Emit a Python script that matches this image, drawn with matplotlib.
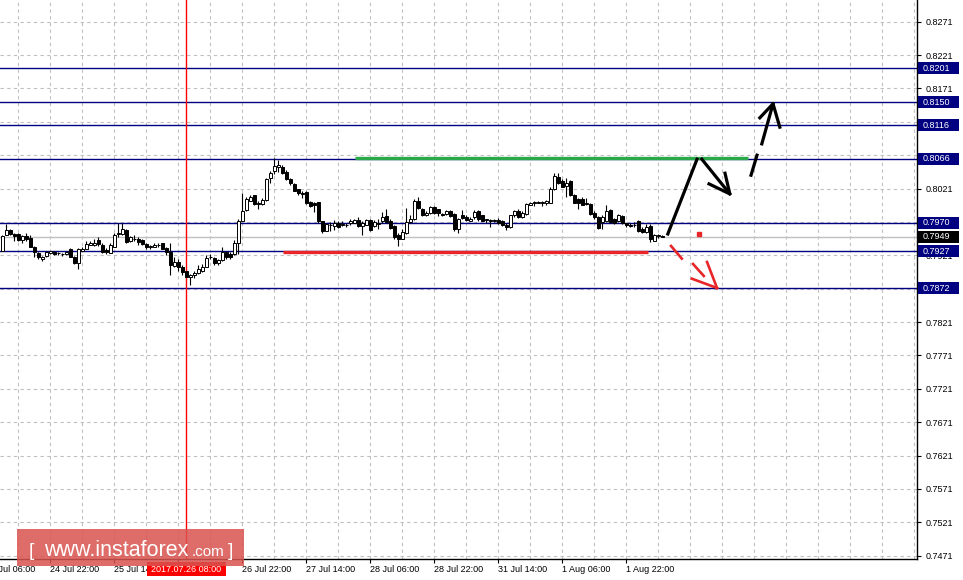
import numpy as np
import matplotlib
matplotlib.use("Agg")
import matplotlib.pyplot as plt
import matplotlib.transforms as mtransforms
from matplotlib.patches import Rectangle

# hourly candles, bar 0 = 24 Jul 10:00
opens = [0.7928, 0.7951, 0.7959, 0.7953, 0.7953, 0.7944, 0.7950, 0.7947, 0.7934, 0.7925,
         0.7916, 0.7920, 0.7924, 0.7926, 0.7924, 0.7923, 0.7923, 0.7931, 0.7918, 0.7910,
         0.7928, 0.7931, 0.7937, 0.7936, 0.7944, 0.7937, 0.7929, 0.7925, 0.7934, 0.7953,
         0.7953, 0.7959, 0.7942, 0.7945, 0.7946, 0.7944, 0.7938, 0.7934, 0.7934, 0.7936,
         0.7939, 0.7932, 0.7926, 0.7905, 0.7911, 0.7904, 0.7897, 0.7888, 0.7891, 0.7895,
         0.7897, 0.7904, 0.7918, 0.7917, 0.7909, 0.7914, 0.7926, 0.7923, 0.7923, 0.7940,
         0.7973, 0.7989, 0.8003, 0.8011, 0.8000, 0.7998, 0.8004, 0.8037, 0.8047, 0.8053,
         0.8053, 0.8046, 0.8036, 0.8028, 0.8020, 0.8014, 0.8016, 0.8001, 0.8000, 0.8001,
         0.7972, 0.7958, 0.7967, 0.7965, 0.7970, 0.7966, 0.7966, 0.7969, 0.7970, 0.7974,
         0.7965, 0.7967, 0.7974, 0.7965, 0.7968, 0.7972, 0.7980, 0.7972, 0.7965, 0.7952,
         0.7946, 0.7954, 0.7971, 0.7975, 0.8003, 0.7991, 0.7981, 0.7984, 0.7994, 0.7990,
         0.7983, 0.7983, 0.7988, 0.7983, 0.7960, 0.7982, 0.7979, 0.7973, 0.7978, 0.7987,
         0.7981, 0.7974, 0.7974, 0.7973, 0.7974, 0.7972, 0.7967, 0.7963, 0.7981, 0.7987,
         0.7979, 0.7983, 0.7997, 0.8000, 0.8001, 0.7999, 0.7999, 0.8000, 0.8021, 0.8039,
         0.8032, 0.8025, 0.8032, 0.8011, 0.8005, 0.8006, 0.8000, 0.7998, 0.7984, 0.7979,
         0.7971, 0.7972, 0.7989, 0.7976, 0.7972, 0.7980, 0.7969, 0.7966, 0.7967, 0.7972,
         0.7960, 0.7956, 0.7965, 0.7943, 0.7950, 0.7950]
highs = [0.7951, 0.7968, 0.7960, 0.7954, 0.7954, 0.7952, 0.7954, 0.7952, 0.7935, 0.7926,
         0.7920, 0.7927, 0.7928, 0.7927, 0.7926, 0.7924, 0.7928, 0.7932, 0.7920, 0.7932,
         0.7934, 0.7943, 0.7942, 0.7945, 0.7949, 0.7939, 0.7932, 0.7939, 0.7954, 0.7969,
         0.7970, 0.7960, 0.7950, 0.7951, 0.7949, 0.7945, 0.7940, 0.7937, 0.7939, 0.7939,
         0.7940, 0.7934, 0.7940, 0.7919, 0.7916, 0.7906, 0.7898, 0.7893, 0.7897, 0.7906,
         0.7908, 0.7921, 0.7923, 0.7918, 0.7916, 0.7933, 0.7927, 0.7926, 0.7944, 0.7976,
         0.8014, 0.8009, 0.8012, 0.8012, 0.8002, 0.8007, 0.8037, 0.8048, 0.8067, 0.8064,
         0.8056, 0.8049, 0.8037, 0.8029, 0.8021, 0.8017, 0.8017, 0.8003, 0.8001, 0.8001,
         0.7973, 0.7970, 0.7971, 0.7974, 0.7972, 0.7972, 0.7969, 0.7975, 0.7976, 0.7978,
         0.7972, 0.7976, 0.7976, 0.7974, 0.7976, 0.7986, 0.7990, 0.7975, 0.7966, 0.7955,
         0.7960, 0.7992, 0.7981, 0.8006, 0.8008, 0.7992, 0.7987, 0.7995, 0.7995, 0.7991,
         0.7985, 0.7989, 0.7989, 0.7984, 0.7977, 0.7989, 0.7981, 0.7979, 0.7989, 0.7989,
         0.7982, 0.7976, 0.7976, 0.7976, 0.7977, 0.7974, 0.7969, 0.7982, 0.7989, 0.7990,
         0.7988, 0.7999, 0.8001, 0.8003, 0.8003, 0.8002, 0.8004, 0.8024, 0.8044, 0.8044,
         0.8035, 0.8037, 0.8034, 0.8013, 0.8007, 0.8009, 0.8007, 0.7999, 0.7988, 0.7980,
         0.7981, 0.7996, 0.7991, 0.7977, 0.7983, 0.7982, 0.7970, 0.7969, 0.7971, 0.7974,
         0.7963, 0.7968, 0.7968, 0.7953, 0.7953, 0.7952]
lows = [0.7927, 0.7951, 0.7952, 0.7942, 0.7943, 0.7939, 0.7943, 0.7934, 0.7919, 0.7915,
        0.7912, 0.7919, 0.7923, 0.7922, 0.7921, 0.7920, 0.7921, 0.7918, 0.7908, 0.7901,
        0.7927, 0.7930, 0.7936, 0.7935, 0.7935, 0.7925, 0.7923, 0.7924, 0.7933, 0.7949,
        0.7952, 0.7940, 0.7941, 0.7942, 0.7937, 0.7937, 0.7930, 0.7931, 0.7933, 0.7933,
        0.7930, 0.7922, 0.7892, 0.7904, 0.7897, 0.7891, 0.7888, 0.7877, 0.7887, 0.7893,
        0.7896, 0.7903, 0.7915, 0.7906, 0.7906, 0.7913, 0.7916, 0.7916, 0.7921, 0.7923,
        0.7972, 0.7988, 0.8002, 0.7997, 0.7991, 0.7997, 0.8003, 0.8029, 0.8043, 0.8046,
        0.8043, 0.8034, 0.8027, 0.8017, 0.8012, 0.8007, 0.7998, 0.7993, 0.7986, 0.7970,
        0.7955, 0.7957, 0.7958, 0.7959, 0.7962, 0.7965, 0.7963, 0.7966, 0.7969, 0.7963,
        0.7952, 0.7966, 0.7958, 0.7963, 0.7961, 0.7970, 0.7969, 0.7961, 0.7946, 0.7935,
        0.7945, 0.7953, 0.7970, 0.7974, 0.7991, 0.7980, 0.7980, 0.7983, 0.7983, 0.7980,
        0.7980, 0.7981, 0.7979, 0.7958, 0.7955, 0.7975, 0.7972, 0.7972, 0.7976, 0.7973,
        0.7972, 0.7970, 0.7963, 0.7971, 0.7968, 0.7965, 0.7959, 0.7962, 0.7979, 0.7977,
        0.7977, 0.7982, 0.7996, 0.7995, 0.7999, 0.7995, 0.7996, 0.7999, 0.8019, 0.8028,
        0.8023, 0.8008, 0.8010, 0.7999, 0.7991, 0.7996, 0.7996, 0.7982, 0.7976, 0.7960,
        0.7961, 0.7971, 0.7970, 0.7968, 0.7971, 0.7968, 0.7963, 0.7963, 0.7963, 0.7956,
        0.7955, 0.7955, 0.7941, 0.7942, 0.7947, 0.7948]
closes = [0.7950, 0.7959, 0.7953, 0.7950, 0.7944, 0.7950, 0.7945, 0.7934, 0.7926, 0.7918,
          0.7919, 0.7926, 0.7927, 0.7923, 0.7924, 0.7923, 0.7926, 0.7919, 0.7910, 0.7931,
          0.7931, 0.7938, 0.7940, 0.7939, 0.7938, 0.7926, 0.7926, 0.7937, 0.7952, 0.7954,
          0.7960, 0.7941, 0.7948, 0.7946, 0.7941, 0.7938, 0.7934, 0.7935, 0.7936, 0.7937,
          0.7931, 0.7926, 0.7906, 0.7911, 0.7904, 0.7896, 0.7889, 0.7892, 0.7895, 0.7900,
          0.7903, 0.7917, 0.7919, 0.7910, 0.7914, 0.7926, 0.7918, 0.7919, 0.7939, 0.7973,
          0.7988, 0.8005, 0.8009, 0.7998, 0.7998, 0.8004, 0.8036, 0.8045, 0.8055, 0.8056,
          0.8044, 0.8035, 0.8029, 0.8018, 0.8014, 0.8013, 0.7999, 0.7995, 0.7996, 0.7972,
          0.7958, 0.7968, 0.7966, 0.7969, 0.7964, 0.7968, 0.7967, 0.7973, 0.7974, 0.7965,
          0.7969, 0.7974, 0.7959, 0.7971, 0.7969, 0.7979, 0.7971, 0.7962, 0.7948, 0.7945,
          0.7956, 0.7971, 0.7975, 0.8003, 0.7992, 0.7982, 0.7985, 0.7994, 0.7985, 0.7985,
          0.7982, 0.7987, 0.7980, 0.7961, 0.7975, 0.7977, 0.7974, 0.7976, 0.7986, 0.7976,
          0.7973, 0.7975, 0.7973, 0.7974, 0.7969, 0.7966, 0.7963, 0.7981, 0.7987, 0.7979,
          0.7985, 0.7998, 0.8000, 0.8001, 0.8000, 0.8001, 0.8003, 0.8021, 0.8040, 0.8030,
          0.8024, 0.8030, 0.8011, 0.8000, 0.8000, 0.7997, 0.7998, 0.7983, 0.7978, 0.7962,
          0.7979, 0.7988, 0.7971, 0.7970, 0.7981, 0.7969, 0.7966, 0.7965, 0.7966, 0.7958,
          0.7956, 0.7963, 0.7945, 0.7952, 0.7951, 0.7949]

# levels drawn on the chart
levels = [0.8201, 0.8150, 0.8116, 0.8066, 0.7970, 0.7927, 0.7872]
bid = 0.7949
grid_prices = [0.7471, 0.7521, 0.7571, 0.7621, 0.7671, 0.7721, 0.7771, 0.7821, 0.7871,
               0.7921, 0.7971, 0.8021, 0.8071, 0.8121, 0.8171, 0.8221, 0.8271]
# price labels that sit fully under a level box
hidden_prices = [0.7871, 0.7971, 0.8071]
date_pos = [-4, 12, 28, 44, 60, 76, 92, 108, 124, 140, 156]
date_labels = ["24 Jul 06:00", "24 Jul 22:00", "25 Jul 14:00", "", "26 Jul 22:00",
               "27 Jul 14:00", "28 Jul 06:00", "28 Jul 22:00", "31 Jul 14:00", "1 Aug 06:00",
               "1 Aug 22:00"]
cursor_bar = 46
cursor_label = "2017.07.26 08:00"

# hand drawn marks (bar index, price)
green_x, green_y = [88.2, 186.4], [0.8067, 0.8067]
red_x, red_y = [70.2, 161.4], [0.7926, 0.7926]
black_strokes = [
    ([166.4, 173.7], [0.7953, 0.8065]),
    ([174.9, 181.9], [0.8065, 0.8013]),
    ([176.7, 181.9, 180.7], [0.8028, 0.8013, 0.8044]),
    ([187.2, 188.7], [0.8041, 0.8071]),
    ([189.9, 192.7], [0.8088, 0.8148]),
    ([189.4, 192.7, 194.4], [0.8127, 0.8148, 0.8113]),
]
red_strokes = [
    ([167.2, 169.9], [0.7935, 0.7916]),
    ([176.2, 178.7], [0.7911, 0.7872]),
    ([172.4, 178.7], [0.7886, 0.7872]),
    ([172.7, 175.4], [0.7908, 0.7890]),
]
red_dot = (174.2, 0.7953)

navy = "#000080"
font = "Liberation Sans"

fig = plt.figure(figsize=(9.63, 5.80), dpi=100)
ax = fig.add_axes([0, 21 / 580, 917 / 963, 559 / 580])
ax.set_xlim(-0.575, 228.7)
ax.set_ylim(0.7466, 0.83035)

# grid
for gx in range(4, 229, 8):
    ax.axvline(gx, color="#c0c0c0", lw=0.8, ls=(0, (3, 3)), zorder=0)
for gy in grid_prices:
    ax.axhline(gy, color="#c0c0c0", lw=0.8, ls=(0, (3, 3)), zorder=0)

# levels
for lv in levels:
    ax.axhline(lv, color=navy, lw=1.0, zorder=1)
ax.axhline(bid, color="#c0c0c0", lw=1.0, zorder=1)
ax.axvline(cursor_bar, color="red", lw=1.0, zorder=1)

# candles
o = np.array(opens)
h = np.array(highs)
l = np.array(lows)
c = np.array(closes)
x = np.arange(len(o))
up = c >= o
ax.vlines(x, l, h, color="black", lw=0.8, zorder=3)
ax.bar(x, np.abs(c - o), bottom=np.minimum(o, c), width=0.72,
       color=np.where(up, "white", "black"), edgecolor="black", lw=0.7, zorder=4)

# drawings
ax.plot(green_x, green_y, color="#2aa84a", lw=2.4, solid_capstyle="butt", zorder=5)
ax.plot(red_x, red_y, color="#e8262a", lw=2.4, solid_capstyle="butt", zorder=5)
for sx, sy in black_strokes:
    ax.plot(sx, sy, color="black", lw=2.3, zorder=6)
for sx, sy in red_strokes:
    ax.plot(sx, sy, color="#e8262a", lw=1.9, zorder=6)
ax.plot(*red_dot, marker="s", ms=3, color="#e8262a", zorder=6)

# axes look
for s in ["top", "left"]:
    ax.spines[s].set_visible(False)
ax.spines["right"].set_linewidth(1.0)
ax.spines["bottom"].set_linewidth(1.0)
ax.yaxis.tick_right()
ax.set_yticks(grid_prices)
ax.set_yticklabels(["" if p in hidden_prices else "%.4f" % p for p in grid_prices],
                   fontname=font, fontsize=6.5)
ax.tick_params(axis="y", length=3, width=0.8, pad=3)
ax.set_xticks([p for p in date_pos if p >= 0])
ax.set_xticklabels([])
ax.tick_params(axis="x", length=3, width=0.8)

tr = mtransforms.blended_transform_factory(ax.transData, ax.transAxes)
for p, lab in zip(date_pos, date_labels):
    if lab:
        ax.text(p - 0.1, -0.018, lab, transform=tr, ha="left", va="center",
                fontname=font, fontsize=6.5, clip_on=False)

# level price boxes on the right
tr_y = mtransforms.blended_transform_factory(ax.transAxes, ax.transData)
box_h = 12 / 6675
for lv, fc in [(v, navy) for v in levels] + [(bid, "black")]:
    ax.add_patch(Rectangle((1.001, lv - box_h / 2), 41 / 917, box_h, transform=tr_y,
                           facecolor=fc, edgecolor="none", clip_on=False, zorder=10))
    ax.text(1 + 6 / 917, lv, "%.4f" % lv, transform=tr_y, ha="left", va="center",
            color="white", fontname=font, fontsize=6.5, clip_on=False, zorder=11)

# cursor date label
fig.patches.append(Rectangle((147 / 963, 4 / 580), 79 / 963, 14 / 580,
                             transform=fig.transFigure, facecolor="red", edgecolor="none", zorder=10))
fig.text(186.5 / 963, 11 / 580, cursor_label, ha="center", va="center", color="white",
         fontname=font, fontsize=6.5, zorder=11)

# watermark
fig.patches.append(Rectangle((17 / 963, 14 / 580), 227 / 963, 37 / 580, transform=fig.transFigure,
                             facecolor="#d9534f", alpha=0.85, edgecolor="none", zorder=12))
fig.text(29 / 963, 24 / 580, "[", color="white", fontname=font, fontsize=14, va="baseline", zorder=13)
fig.text(44 / 963, 24 / 580, "www.instaforex", color="white", fontname=font, fontsize=15.5,
         va="baseline", zorder=13)
fig.text(192 / 963, 24 / 580, ".com", color="white", fontname=font, fontsize=11,
         va="baseline", zorder=13)
fig.text(228 / 963, 24 / 580, "]", color="white", fontname=font, fontsize=14, va="baseline", zorder=13)

fig.savefig("out.png", dpi=100)
